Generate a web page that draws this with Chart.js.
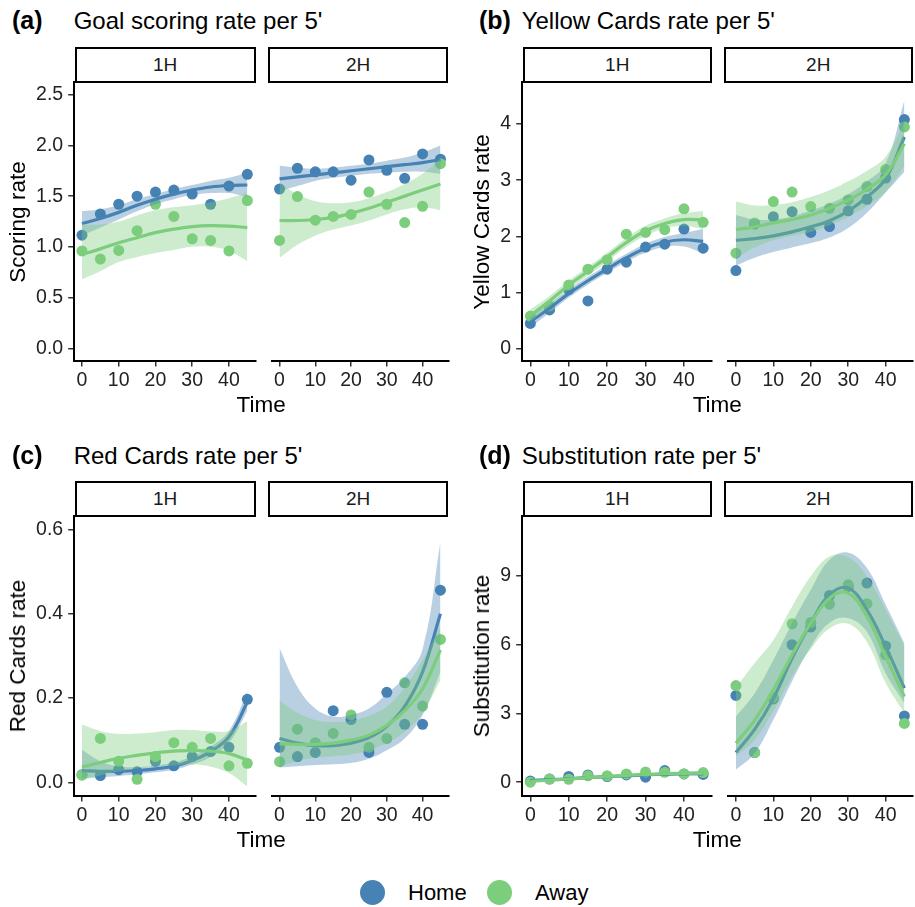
<!DOCTYPE html>
<html><head><meta charset="utf-8">
<script src="https://cdn.jsdelivr.net/npm/chart.js@4.4.1/dist/chart.umd.min.js"></script>
<style>
body{margin:0;background:#fff;width:915px;height:907px;position:relative;overflow:hidden;font-family:"Liberation Sans",Arial,Helvetica,sans-serif;color:#000}
canvas{position:absolute}
.strip{position:absolute;box-sizing:border-box;border:2px solid #000;font-size:19px;color:#1a1a1a;display:flex;align-items:center;justify-content:center;background:#fff}
.title{position:absolute;font-size:24px;line-height:24px;white-space:nowrap}
.tag{position:absolute;font-size:25px;font-weight:bold;line-height:25px;white-space:nowrap}
.ytitle{position:absolute;font-size:22.5px;line-height:24px;white-space:nowrap;transform:translate(-50%,-50%) rotate(-90deg)}
.xtitle{position:absolute;font-size:22.5px;line-height:22px;white-space:nowrap;transform:translateX(-50%)}
.leg{position:absolute;font-size:22px;line-height:22px;white-space:nowrap}
.dot{position:absolute;width:25px;height:25px;border-radius:50%}
</style>
</head><body>
<script>
// ---------- shared ----------
const timeX = [0,5,10,15,20,25,30,35,40,45];
const xTickValues = [0,10,20,30,40];
const teams = ["Home","Away"];
const halves = ["1H","2H"];

// ---------- (a) Goal scoring rate ----------
const goalYTicks = [0,0.5,1,1.5,2,2.5];
const goalYLabels = ["0.0","0.5","1.0","1.5","2.0","2.5"];
const goalHome1H = [1.115,1.325,1.42,1.50,1.54,1.56,1.52,1.42,1.60,1.715];
const goalAway1H = [0.96,0.88,0.965,1.16,1.42,1.30,1.08,1.063,0.96,1.457];
const goalHomeFit1H = [1.23,1.28,1.34,1.41,1.47,1.52,1.56,1.59,1.605,1.61];
const goalHomeLo1H = [1.11,1.19,1.27,1.35,1.42,1.47,1.51,1.53,1.53,1.49];
const goalHomeHi1H = [1.35,1.37,1.41,1.47,1.52,1.57,1.61,1.65,1.68,1.73];
const goalAwayFit1H = [0.925,0.98,1.04,1.09,1.14,1.175,1.20,1.21,1.205,1.19];
const goalAwayLo1H = [0.68,0.76,0.85,0.90,0.94,0.97,1.00,1.00,0.96,0.86];
const goalAwayHi1H = [1.22,1.22,1.25,1.31,1.36,1.39,1.41,1.44,1.48,1.53];
const goalHome2H = [1.57,1.775,1.74,1.74,1.657,1.857,1.755,1.676,1.916,1.864];
const goalAway2H = [1.063,1.496,1.263,1.30,1.32,1.54,1.42,1.24,1.40,1.82];
const goalHomeFit2H = [1.67,1.69,1.71,1.73,1.75,1.77,1.79,1.81,1.83,1.86];
const goalHomeLo2H = [1.55,1.60,1.65,1.68,1.70,1.72,1.73,1.74,1.74,1.72];
const goalHomeHi2H = [1.80,1.78,1.77,1.78,1.80,1.82,1.85,1.88,1.93,2.00];
const goalAwayFit2H = [1.26,1.26,1.27,1.29,1.33,1.38,1.44,1.50,1.56,1.62];
const goalAwayLo2H = [0.89,1.02,1.11,1.17,1.21,1.26,1.32,1.37,1.39,1.36];
const goalAwayHi2H = [1.63,1.52,1.45,1.43,1.44,1.48,1.54,1.62,1.72,1.87];

// ---------- (b) Yellow cards rate ----------
const yellowYTicks = [0,1,2,3,4];
const yellowYLabels = ["0","1","2","3","4"];
const yellowHome1H = [0.45,0.69,1.05,0.85,1.415,1.54,1.81,1.86,2.13,1.79];
const yellowAway1H = [0.58,0.76,1.135,1.415,1.58,2.04,2.07,2.12,2.49,2.25];
const yellowHomeFit1H = [0.48,0.72,0.98,1.21,1.42,1.62,1.79,1.90,1.94,1.91];
const yellowHomeLo1H = [0.38,0.64,0.91,1.14,1.35,1.55,1.71,1.81,1.82,1.69];
const yellowHomeHi1H = [0.58,0.80,1.05,1.28,1.49,1.69,1.87,1.99,2.06,2.13];
const yellowAwayFit1H = [0.59,0.85,1.13,1.38,1.63,1.89,2.10,2.23,2.30,2.29];
const yellowAwayLo1H = [0.48,0.76,1.05,1.30,1.55,1.81,2.01,2.14,2.19,2.13];
const yellowAwayHi1H = [0.70,0.94,1.21,1.46,1.71,1.97,2.19,2.32,2.41,2.45];
const yellowHome2H = [1.39,2.22,2.35,2.44,2.07,2.175,2.455,2.66,3.04,4.08];
const yellowAway2H = [1.70,2.24,2.62,2.79,2.53,2.50,2.65,2.89,3.19,3.95];
const yellowHomeFit2H = [1.93,1.96,2.01,2.08,2.17,2.28,2.45,2.70,3.03,3.77];
const yellowHomeLo2H = [1.48,1.62,1.72,1.80,1.88,1.98,2.15,2.42,2.78,3.15];
const yellowHomeHi2H = [2.38,2.30,2.30,2.36,2.46,2.58,2.75,2.98,3.30,4.42];
const yellowAwayFit2H = [2.12,2.17,2.24,2.30,2.38,2.50,2.65,2.84,3.10,3.65];
const yellowAwayLo2H = [1.62,1.80,1.93,2.01,2.08,2.20,2.35,2.54,2.80,3.25];
const yellowAwayHi2H = [2.62,2.55,2.56,2.61,2.70,2.82,2.98,3.17,3.42,4.03];

// ---------- (c) Red cards rate ----------
const redYTicks = [0,0.2,0.4,0.6];
const redYLabels = ["0.0","0.2","0.4","0.6"];
const redHome1H = [0.018,0.016,0.03,0.025,0.05,0.039,0.061,0.073,0.083,0.197];
const redAway1H = [0.017,0.104,0.05,0.007,0.061,0.094,0.083,0.104,0.039,0.045];
const redHomeFit1H = [0.028,0.026,0.026,0.028,0.032,0.038,0.052,0.073,0.108,0.19];
const redHomeLo1H = [0.010,0.012,0.015,0.019,0.024,0.030,0.042,0.060,0.093,0.170];
const redHomeHi1H = [0.077,0.050,0.038,0.036,0.040,0.047,0.062,0.085,0.122,0.215];
const redAwayFit1H = [0.036,0.047,0.057,0.064,0.070,0.074,0.075,0.074,0.068,0.053];
const redAwayLo1H = [0.005,0.016,0.026,0.033,0.038,0.040,0.042,0.037,0.022,-0.01];
const redAwayHi1H = [0.137,0.122,0.115,0.116,0.119,0.124,0.124,0.121,0.122,0.145];
const redHome2H = [0.083,0.061,0.071,0.17,0.149,0.071,0.2135,0.1375,0.1375,0.456];
const redAway2H = [0.049,0.126,0.094,0.116,0.16,0.083,0.104,0.236,0.181,0.339];
const redHomeFit2H = [0.104,0.093,0.087,0.087,0.093,0.106,0.133,0.180,0.262,0.40];
const redHomeLo2H = [0.035,0.038,0.041,0.043,0.046,0.056,0.076,0.104,0.16,0.262];
const redHomeHi2H = [0.318,0.227,0.175,0.156,0.160,0.175,0.21,0.25,0.316,0.57];
const redAwayFit2H = [0.092,0.090,0.090,0.093,0.100,0.112,0.135,0.170,0.222,0.314];
const redAwayLo2H = [0.037,0.050,0.058,0.062,0.066,0.076,0.093,0.12,0.164,0.243];
const redAwayHi2H = [0.194,0.165,0.148,0.143,0.146,0.158,0.18,0.225,0.29,0.37];

// ---------- (d) Substitution rate ----------
const subsYTicks = [0,3,6,9];
const subsYLabels = ["0","3","6","9"];
const subsHome1H = [0.05,0.14,0.25,0.32,0.25,0.32,0.22,0.51,0.36,0.34];
const subsAway1H = [0.0,0.145,0.13,0.28,0.28,0.36,0.45,0.43,0.36,0.42];
const subsHomeFit1H = [0.07,0.11,0.15,0.20,0.24,0.28,0.32,0.35,0.37,0.37];
const subsHomeLo1H = [0.0,0.05,0.10,0.15,0.19,0.23,0.26,0.28,0.29,0.27];
const subsHomeHi1H = [0.14,0.17,0.20,0.25,0.29,0.33,0.38,0.42,0.45,0.47];
const subsAwayFit1H = [0.04,0.09,0.14,0.20,0.25,0.30,0.34,0.37,0.39,0.40];
const subsAwayLo1H = [-0.02,0.04,0.09,0.15,0.20,0.25,0.29,0.31,0.32,0.31];
const subsAwayHi1H = [0.10,0.14,0.19,0.25,0.30,0.35,0.39,0.43,0.46,0.49];
const subsHome2H = [3.78,1.29,3.63,5.99,6.76,8.14,8.53,8.68,5.94,2.89];
const subsAway2H = [4.21,1.29,3.70,6.90,6.96,7.76,8.60,7.78,5.55,2.56];
const subsHomeFit2H = [1.30,2.30,3.65,5.40,6.93,8.17,8.46,7.51,5.91,4.10];
const subsHomeLo2H = [0.54,1.26,2.72,4.40,5.90,6.95,7.15,6.55,4.75,3.44];
const subsHomeHi2H = [2.86,3.88,5.33,6.93,8.39,9.69,10.0,9.33,7.73,6.06];
const subsAwayFit2H = [1.70,2.70,4.03,5.55,6.93,8.02,8.24,7.22,5.48,3.73];
const subsAwayLo2H = [1.12,1.84,3.10,4.60,5.80,6.70,6.90,6.10,4.32,3.00];
const subsAwayHi2H = [4.10,5.19,6.20,7.66,8.97,9.84,9.80,8.97,7.51,5.91];

// ---------- styling / layout ----------
const BLUE = '#4682B4', GREEN = '#7CCD7C';
const BLUE_BAND = 'rgba(70,130,180,0.38)', GREEN_BAND = 'rgba(124,205,124,0.38)';
const FONT = '"Liberation Sans", Arial, Helvetica, sans-serif';
Chart.defaults.font.family = FONT;

const panelDefs = [
  {tag:'(a)', title:"Goal scoring rate per 5'", ytitle:'Scoring rate', top:82, bottom:361, f1:[73.7,255.6], f2:[266.7,448.5],
   ymin:-0.125, ymax:2.625, yTicks:goalYTicks, yLabels:goalYLabels, tagX:12, titleY:8, yTitleX:18,
   s1:[goalHome1H,goalAway1H,goalHomeFit1H,goalHomeLo1H,goalHomeHi1H,goalAwayFit1H,goalAwayLo1H,goalAwayHi1H],
   s2:[goalHome2H,goalAway2H,goalHomeFit2H,goalHomeLo2H,goalHomeHi2H,goalAwayFit2H,goalAwayLo2H,goalAwayHi2H]},
  {tag:'(b)', title:"Yellow Cards rate per 5'", ytitle:'Yellow Cards rate', top:82, bottom:361, f1:[521.7,711.8], f2:[722.7,912.8],
   ymin:-0.22, ymax:4.75, yTicks:yellowYTicks, yLabels:yellowYLabels, tagX:479, titleY:8, yTitleX:482,
   s1:[yellowHome1H,yellowAway1H,yellowHomeFit1H,yellowHomeLo1H,yellowHomeHi1H,yellowAwayFit1H,yellowAwayLo1H,yellowAwayHi1H],
   s2:[yellowHome2H,yellowAway2H,yellowHomeFit2H,yellowHomeLo2H,yellowHomeHi2H,yellowAwayFit2H,yellowAwayLo2H,yellowAwayHi2H]},
  {tag:'(c)', title:"Red Cards rate per 5'", ytitle:'Red Cards rate', top:516, bottom:796, f1:[73.7,255.6], f2:[266.7,448.5],
   ymin:-0.0325, ymax:0.632, yTicks:redYTicks, yLabels:redYLabels, tagX:12, titleY:443, yTitleX:18,
   s1:[redHome1H,redAway1H,redHomeFit1H,redHomeLo1H,redHomeHi1H,redAwayFit1H,redAwayLo1H,redAwayHi1H],
   s2:[redHome2H,redAway2H,redHomeFit2H,redHomeLo2H,redHomeHi2H,redAwayFit2H,redAwayLo2H,redAwayHi2H]},
  {tag:'(d)', title:"Substitution rate per 5'", ytitle:'Substitution rate', top:516, bottom:796, f1:[521.7,711.8], f2:[722.7,912.8],
   ymin:-0.6, ymax:11.6, yTicks:subsYTicks, yLabels:subsYLabels, tagX:479, titleY:443, yTitleX:482,
   s1:[subsHome1H,subsAway1H,subsHomeFit1H,subsHomeLo1H,subsHomeHi1H,subsAwayFit1H,subsAwayLo1H,subsAwayHi1H],
   s2:[subsHome2H,subsAway2H,subsHomeFit2H,subsHomeLo2H,subsHomeHi2H,subsAwayFit2H,subsAwayLo2H,subsAwayHi2H]}
];

function pts(arr){ return timeX.map((x,i)=>({x:x, y:arr[i]})); }
function addDiv(cls, text, style){
  const d = document.createElement('div'); d.className = cls; d.textContent = text;
  Object.assign(d.style, style); document.body.appendChild(d); return d;
}

function buildFacet(p, range, withY, s){
  const AXW = 50, PADT = 20, XH = 34;
  const left = range[0], right = range[1];
  const cl = withY ? Math.floor(left) - AXW : Math.floor(left);
  const yW = left - cl;
  const cw = Math.ceil(right) + 10 - cl;
  const ct = p.top - PADT;
  const ch = PADT + (p.bottom - p.top) + XH;
  const c = document.createElement('canvas');
  c.width = cw; c.height = ch;
  c.style.left = cl + 'px'; c.style.top = ct + 'px';
  c.style.width = cw + 'px'; c.style.height = ch + 'px';
  document.body.appendChild(c);
  const line = (arr, color, order, extra) => Object.assign({data:pts(arr), showLine:true, pointRadius:0, tension:0.4,
      borderColor:color, borderWidth:3.2, fill:false, order:order, borderCapStyle:'butt'}, extra||{});
  const datasets = [
    {label:teams[0], data:pts(s[0]), showLine:false, pointRadius:5.5, pointBackgroundColor:BLUE, pointBorderWidth:0, order:5},
    {label:teams[1], data:pts(s[1]), showLine:false, pointRadius:5.5, pointBackgroundColor:GREEN, pointBorderWidth:0, order:4},
    line(s[3], 'rgba(0,0,0,0)', 3, {borderWidth:0}),
    line(s[4], 'rgba(0,0,0,0)', 3, {borderWidth:0, fill:{target:2}, backgroundColor:BLUE_BAND}),
    line(s[2], BLUE, 2),
    line(s[6], 'rgba(0,0,0,0)', 1, {borderWidth:0}),
    line(s[7], 'rgba(0,0,0,0)', 1, {borderWidth:0, fill:{target:5}, backgroundColor:GREEN_BAND}),
    line(s[5], GREEN, 0)
  ];
  const tickFont = {family:FONT, size:19.5};
  new Chart(c, {
    type:'scatter',
    data:{datasets:datasets},
    options:{
      responsive:false, animation:false, devicePixelRatio:1, events:[],
      layout:{padding:{top:PADT, left: withY ? 0 : yW, right: cw - (right - cl), bottom:0}},
      plugins:{legend:{display:false}, tooltip:{enabled:false}},
      scales:{
        x:{type:'linear', min:-2.25, max:47.25,
           afterBuildTicks:(sc)=>{ sc.ticks = xTickValues.map(v=>({value:v})); },
           afterFit:(sc)=>{ sc.height = XH; },
           ticks:{font:tickFont, color:'#222', padding:2, maxRotation:0, callback:(v)=>String(v)},
           grid:{drawOnChartArea:false, drawTicks:true, tickLength:5.5, color:'#333', lineWidth:1.5},
           border:{display:true, color:'#000', width:2}},
        y:{type:'linear', display:withY, min:p.ymin, max:p.ymax,
           afterBuildTicks:(sc)=>{ sc.ticks = p.yTicks.map(v=>({value:v})); },
           afterFit:(sc)=>{ sc.width = yW; },
           ticks:{font:tickFont, color:'#222', padding:5,
                  callback:(v)=>{ const i = p.yTicks.indexOf(v); return i >= 0 ? p.yLabels[i] : ''; }},
           grid:{drawOnChartArea:false, drawTicks:true, tickLength:5.5, color:'#333', lineWidth:1.5},
           border:{display:true, color:'#000', width:2}}
      }
    }
  });
}

panelDefs.forEach(p=>{
  buildFacet(p, p.f1, true, p.s1);
  buildFacet(p, p.f2, false, p.s2);
  const stripH = 35.5;
  [p.f1, p.f2].forEach((r, i)=>{
    addDiv('strip', halves[i], {left:(r[0]+1)+'px', top:(p.top - stripH)+'px', width:(r[1]-r[0]-1)+'px', height:(stripH+0.5)+'px'});
  });
  addDiv('tag', p.tag, {left:p.tagX+'px', top:p.titleY+'px'});
  addDiv('title', p.title, {left:p.f1[0]+'px', top:(p.titleY+1)+'px'});
  addDiv('ytitle', p.ytitle, {left:p.yTitleX+'px', top:((p.top+p.bottom)/2)+'px'});
  addDiv('xtitle', 'Time', {left:((p.f1[0]+p.f2[1])/2)+'px', top:(p.bottom + 33)+'px'});
});

// legend
addDiv('dot', '', {left:'360px', top:'880px', background:BLUE});
addDiv('leg', teams[0], {left:'408px', top:'882px'});
addDiv('dot', '', {left:'487px', top:'880px', background:GREEN});
addDiv('leg', teams[1], {left:'535px', top:'882px'});
</script>
</body></html>
